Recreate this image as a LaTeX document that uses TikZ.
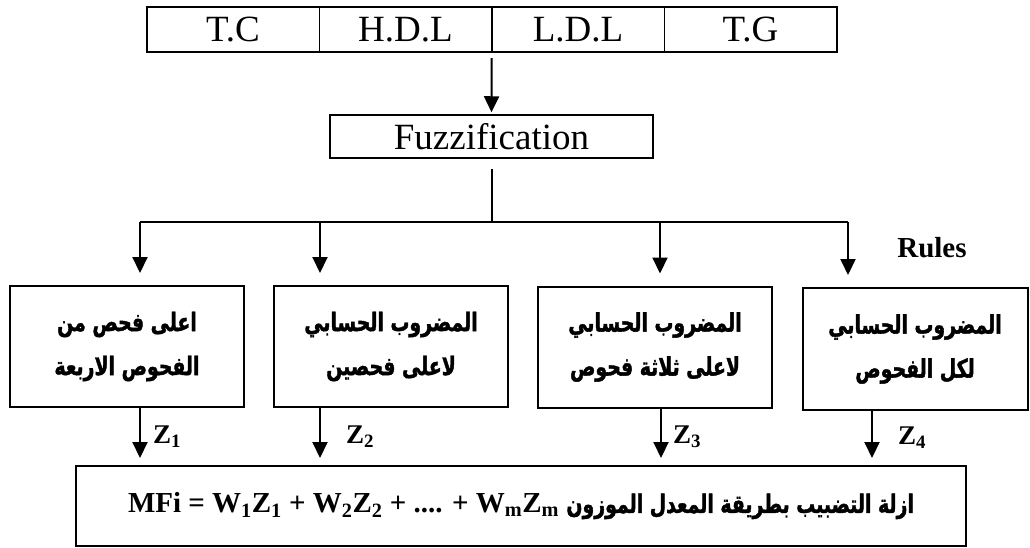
\documentclass[tikz,border=0pt]{standalone}
\usepackage{fontspec}
\setmainfont{Liberation Serif}
\newfontfamily\arabicfont[Script=Arabic, FakeStretch=0.74, FakeBold=1.5]{DejaVu Sans}
\TeXXeTstate=1
\usetikzlibrary{arrows.meta,positioning}
\tikzstyle{cell}=[draw, line width=1.5pt, minimum width=172.5pt, minimum height=45pt, inner sep=0pt, outer sep=0pt, font=\fontsize{37}{40}\selectfont]
\tikzstyle{rulebox}=[draw, line width=2pt, minimum width=234pt, minimum height=121pt, align=center, font=\arabicfont\bfseries\fontsize{25.5}{44}\selectfont]
\tikzstyle{arr}=[-{Triangle[width=15pt,length=16pt]}, line width=2pt]
\tikzstyle{zlab}=[font=\bfseries\fontsize{27}{30}\selectfont, inner sep=0pt]

\begin{document}
\begin{tikzpicture}[x=1pt, y=-1pt]
    \useasboundingbox (0,0) rectangle (1030,547);
    \node[cell] (tc) at (233,29.5) {T.C};
    \node[cell, right=0pt of tc] (hdl) {H.D.L};
    \node[cell, right=0pt of hdl] (ldl) {L.D.L};
    \node[cell, right=0pt of ldl] (tg) {T.G};
    \node[draw, line width=1.5pt, minimum width=323pt, minimum height=43pt, font=\fontsize{37}{40}\selectfont] (fuzz) at (491.5,136.5) {Fuzzification};
    \node[font=\bfseries\fontsize{29}{30}\selectfont] (rules) at (932,248) {Rules};
    \node[rulebox] (b1) at (127,346.5) {\beginR اعلى فحص من\endR\\\beginR الفحوص الاربعة\endR};
    \node[rulebox] (b2) at (391,346.5) {\beginR المضروب الحسابي\endR\\\beginR لاعلى فحصين\endR};
    \node[rulebox] (b3) at (655,347) {\beginR المضروب الحسابي\endR\\\beginR لاعلى ثلاثة فحوص\endR};
    \node[rulebox, minimum width=225pt, minimum height=122pt] (b4) at (915,349) {\beginR المضروب الحسابي\endR\\\beginR لكل الفحوص\endR};
    \node[draw, line width=2pt, minimum width=890pt, minimum height=80pt, font=\bfseries\fontsize{29}{32}\selectfont] (defuzz) at (521,506)
        {MFi = W\textsubscript{1}Z\textsubscript{1} + W\textsubscript{2}Z\textsubscript{2} + .... + W\textsubscript{m}Z\textsubscript{m} {\arabicfont\fontsize{25.5}{32}\selectfont\beginR ازلة التضبيب بطريقة المعدل الموزون\endR}};
    \coordinate (r1) at (140,222);
    \coordinate (r2) at (320,222);
    \coordinate (r3) at (660,222);
    \coordinate (r4) at (848,222);
    \coordinate (z1) at (140,0);
    \coordinate (z2) at (320,0);
    \coordinate (z3) at (661,0);
    \coordinate (z4) at (872,0);
    \draw[arr, shorten <=6pt, shorten >=2pt] (hdl.south east) -- (fuzz.north);
    \draw[line width=2pt, shorten <=10pt] (fuzz.south) -- (fuzz.south |- r1);
    \draw[line width=2pt] (r1) -- (r4);
    \draw[arr, shorten >=12pt] (r1) -- (r1 |- b1.north);
    \draw[arr, shorten >=12pt] (r2) -- (r2 |- b2.north);
    \draw[arr, shorten >=12pt] (r3) -- (r3 |- b3.north);
    \draw[arr, shorten >=12pt] (r4) -- (r4 |- b4.north);
    \draw[arr, shorten >=7pt] (b1.south -| z1) -- (z1 |- defuzz.north) node[zlab, pos=0.5, right=12pt] {Z\textsubscript{1}};
    \draw[arr, shorten >=7pt] (b2.south -| z2) -- (z2 |- defuzz.north) node[zlab, pos=0.5, right=25pt] {Z\textsubscript{2}};
    \draw[arr, shorten >=7pt] (b3.south -| z3) -- (z3 |- defuzz.north) node[zlab, pos=0.5, right=11pt] {Z\textsubscript{3}};
    \draw[arr, shorten >=7pt] (b4.south -| z4) -- (z4 |- defuzz.north) node[zlab, pos=0.5, right=25pt] {Z\textsubscript{4}};
\end{tikzpicture}
\end{document}
